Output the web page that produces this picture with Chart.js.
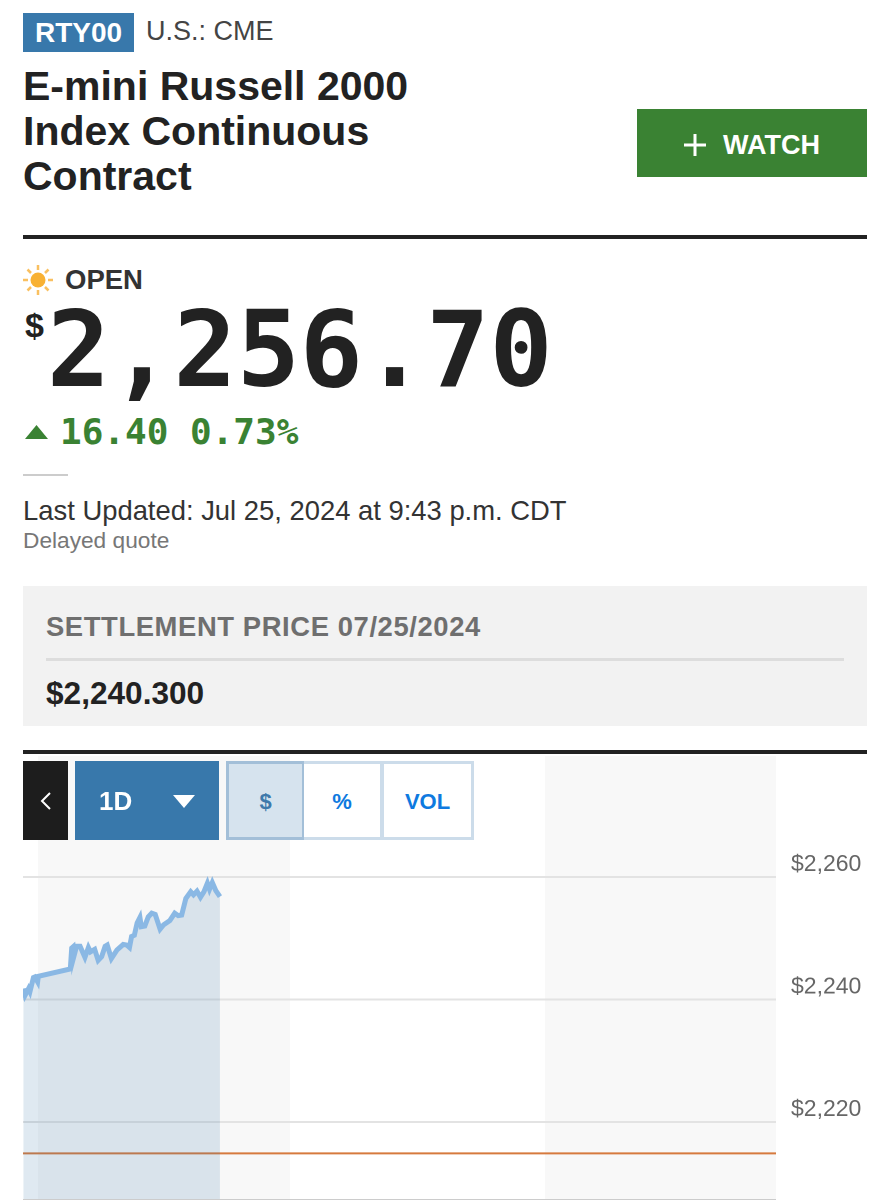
<!DOCTYPE html>
<html>
<head>
<meta charset="utf-8">
<title>RTY00</title>
<script src="https://cdn.jsdelivr.net/npm/chart.js@4"></script>
<style>
html, body { margin: 0; padding: 0; background: #fff; }
body { width: 890px; height: 1200px; position: relative; overflow: hidden; font-family: "Liberation Sans", Arial, sans-serif; color: #222; }
.abs { position: absolute; white-space: nowrap; }
.mono { font-family: "DejaVu Sans Mono", monospace; font-weight: bold; }
.tab { position: absolute; top: 761px; height: 79px; box-sizing: border-box; border: 3px solid #ccdcea; background: #fff; color: #0e7ae0; font-weight: bold; font-size: 22px; line-height: 75px; text-align: center; }
#chartBox { position: absolute; left: 23px; top: 756px; width: 867px; height: 444px; }
</style>
</head>
<body>
<div class="abs" style="left:23px;top:13px;width:111px;height:39px;background:#3878ab;color:#fff;font-weight:bold;font-size:28px;line-height:39px;text-align:center;">RTY00</div>
<div class="abs" style="left:146px;top:12px;font-size:27px;line-height:39px;color:#444;">U.S.: CME</div>
<div class="abs" style="left:23px;top:64px;font-weight:bold;font-size:41px;line-height:45px;">E-mini Russell 2000<br>Index Continuous<br>Contract</div>
<div class="abs" style="left:637px;top:109px;width:230px;height:68px;background:#3a8233;"></div>
<svg class="abs" style="left:683px;top:133px;" width="24" height="24"><path d="M12 1V23M1 12H23" stroke="#fff" stroke-width="3"/></svg>
<div class="abs" style="left:723px;top:109px;font-weight:bold;font-size:27px;line-height:72px;color:#fff;">WATCH</div>
<div class="abs" style="left:23px;top:235px;width:844px;height:4px;background:#222;"></div>

<svg class="abs" style="left:22px;top:264px;" width="32" height="32">
  <circle cx="16" cy="16" r="7.5" fill="#f8b133"/>
  <path d="M16 1V6M16 26V31M1 16H6M26 16H31M5.5 5.5L9 9M23 23L26.5 26.5M26.5 5.5L23 9M9 23L5.5 26.5" stroke="#f9c060" stroke-width="2.5"/>
</svg>
<div class="abs" style="left:65px;top:264px;font-weight:bold;font-size:27.5px;line-height:32px;color:#333;">OPEN</div>
<div class="abs" style="left:25px;top:305px;font-weight:bold;font-size:34px;line-height:40px;">$</div>
<div class="abs mono" style="left:47px;top:289px;font-size:105px;line-height:122px;">2,256.70</div>
<svg class="abs" style="left:25px;top:425px;" width="23" height="14"><path d="M11.5 0L23 14H0Z" fill="#3a8233"/></svg>
<div class="abs mono" style="left:60px;top:410px;font-size:36px;line-height:44px;color:#3a8233;">16.40</div>
<div class="abs mono" style="left:190px;top:410px;font-size:36px;line-height:44px;color:#3a8233;">0.73%</div>
<div class="abs" style="left:23px;top:474px;width:45px;height:2px;background:#ccc;"></div>
<div class="abs" style="left:23px;top:495px;font-size:27.4px;line-height:32px;color:#333;">Last Updated: Jul 25, 2024 at 9:43 p.m. CDT</div>
<div class="abs" style="left:23px;top:527px;font-size:22.7px;line-height:26px;color:#777;">Delayed quote</div>

<div class="abs" style="left:23px;top:586px;width:844px;height:140px;background:#f2f2f2;"></div>
<div class="abs" style="left:46px;top:611px;font-weight:bold;font-size:27.4px;line-height:32px;color:#6f6f6f;letter-spacing:0.6px;">SETTLEMENT PRICE 07/25/2024</div>
<div class="abs" style="left:46px;top:658px;width:798px;height:3px;background:#ddd;"></div>
<div class="abs" style="left:46px;top:675px;font-weight:bold;font-size:31.6px;line-height:36px;">$2,240.300</div>
<div class="abs" style="left:23px;top:750px;width:844px;height:4px;background:#222;"></div>

<div id="chartBox"><canvas id="quoteChart" width="867" height="444" style="display:block;width:867px;height:444px;"></canvas></div>
<div class="abs" style="left:23px;top:1199px;width:753px;height:1px;background:#ccc;"></div>

<div class="abs" style="left:23px;top:761px;width:45px;height:79px;background:#1d1d1d;"></div>
<svg class="abs" style="left:39px;top:791px;" width="14" height="20"><path d="M11 2L3 10L11 18" fill="none" stroke="#fff" stroke-width="2"/></svg>
<div class="abs" style="left:75px;top:761px;width:144px;height:79px;background:#3878ab;"></div>
<div class="abs" style="left:99px;top:762px;color:#fff;font-weight:bold;font-size:26px;line-height:79px;">1D</div>
<svg class="abs" style="left:173px;top:795px;" width="22" height="13"><path d="M0 0H22L11 13Z" fill="#fff"/></svg>
<div class="tab" style="left:226px;width:79px;background:#d6e3ee;border-color:#a3bfd8;color:#3e79ab;">$</div>
<div class="tab" style="left:304px;width:79px;border-left:none;">%</div>
<div class="tab" style="left:381px;width:93px;">VOL</div>

<script>
// minutes since session open
const minutes = [0.5, 3, 8, 10, 15, 17, 21, 22, 68, 70, 72, 73, 77, 82, 89, 94, 97, 103, 108, 113, 118, 121, 127, 135, 144, 149, 153, 156, 160, 164, 168, 170, 175, 180, 185, 190, 197, 202, 211, 218, 223, 228, 234, 241, 245, 250, 255, 260, 265, 268, 272, 277, 283];
const prices = [2241.8, 2240.7, 2241.8, 2241.3, 2243.6, 2243.7, 2242.9, 2243.8, 2245.0, 2248.4, 2248.6, 2247.0, 2248.7, 2248.7, 2246.9, 2248.5, 2247.8, 2248.2, 2246.4, 2247.0, 2248.7, 2248.9, 2246.7, 2248.1, 2249.0, 2248.9, 2248.5, 2250.3, 2250.5, 2252.5, 2253.4, 2251.9, 2252.0, 2253.5, 2254.1, 2253.9, 2251.5, 2252.2, 2252.9, 2254.1, 2253.7, 2253.8, 2256.5, 2257.6, 2257.1, 2257.7, 2256.7, 2257.6, 2259.0, 2258.0, 2259.1, 2257.8, 2256.8];
const refLevel = 2214.9;
const yTicks = [2220, 2240, 2260];
const xRange = [0, 1082];
const yRange = [2207.3, 2279.75];
const shadedBands = [[21.6, 383.6], [750, 1082]];

const bandPlugin = {
    id: 'bands',
    beforeDraw(chart) {
        const { ctx, chartArea, scales } = chart;
        ctx.save();
        ctx.fillStyle = '#f8f8f8';
        shadedBands.forEach(b => {
            const x1 = scales.x.getPixelForValue(b[0]);
            const x2 = scales.x.getPixelForValue(b[1]);
            ctx.fillRect(x1, chartArea.top, x2 - x1, chartArea.bottom - chartArea.top);
        });
        ctx.restore();
    }
};

new Chart(document.getElementById('quoteChart').getContext('2d'), {
    type: 'line',
    data: {
        datasets: [
            {
                data: minutes.map((m, i) => ({ x: m, y: prices[i] })),
                borderColor: '#8ab8e4',
                backgroundColor: 'rgba(56, 120, 171, 0.16)',
                borderWidth: 5,
                pointRadius: 0,
                fill: 'start',
                tension: 0
            },
            {
                data: xRange.map(x => ({ x: x, y: refLevel })),
                borderColor: '#d67a3e',
                borderWidth: 2,
                pointRadius: 0,
                fill: false
            }
        ]
    },
    options: {
        responsive: false,
        animation: false,
        devicePixelRatio: 2,
        layout: { padding: 0 },
        plugins: { legend: { display: false }, tooltip: { enabled: false } },
        scales: {
            x: { type: 'linear', min: xRange[0], max: xRange[1], display: false },
            y: {
                position: 'right',
                min: yRange[0],
                max: yRange[1],
                afterBuildTicks: axis => { axis.ticks = yTicks.map(v => ({ value: v })); },
                // no room kept for the labels above and below the plot
                afterFit: axis => { axis.width = 114; axis.paddingTop = 0; axis.paddingBottom = 0; },
                border: { display: false },
                grid: { color: '#e3e3e3', lineWidth: 2, drawTicks: false },
                ticks: {
                    padding: 15,
                    labelOffset: -12.5,
                    color: '#666',
                    font: { family: '"Liberation Sans"', size: 23 },
                    callback: v => '$' + v.toLocaleString('en-US')
                }
            }
        }
    },
    plugins: [bandPlugin]
});
</script>
</body>
</html>
